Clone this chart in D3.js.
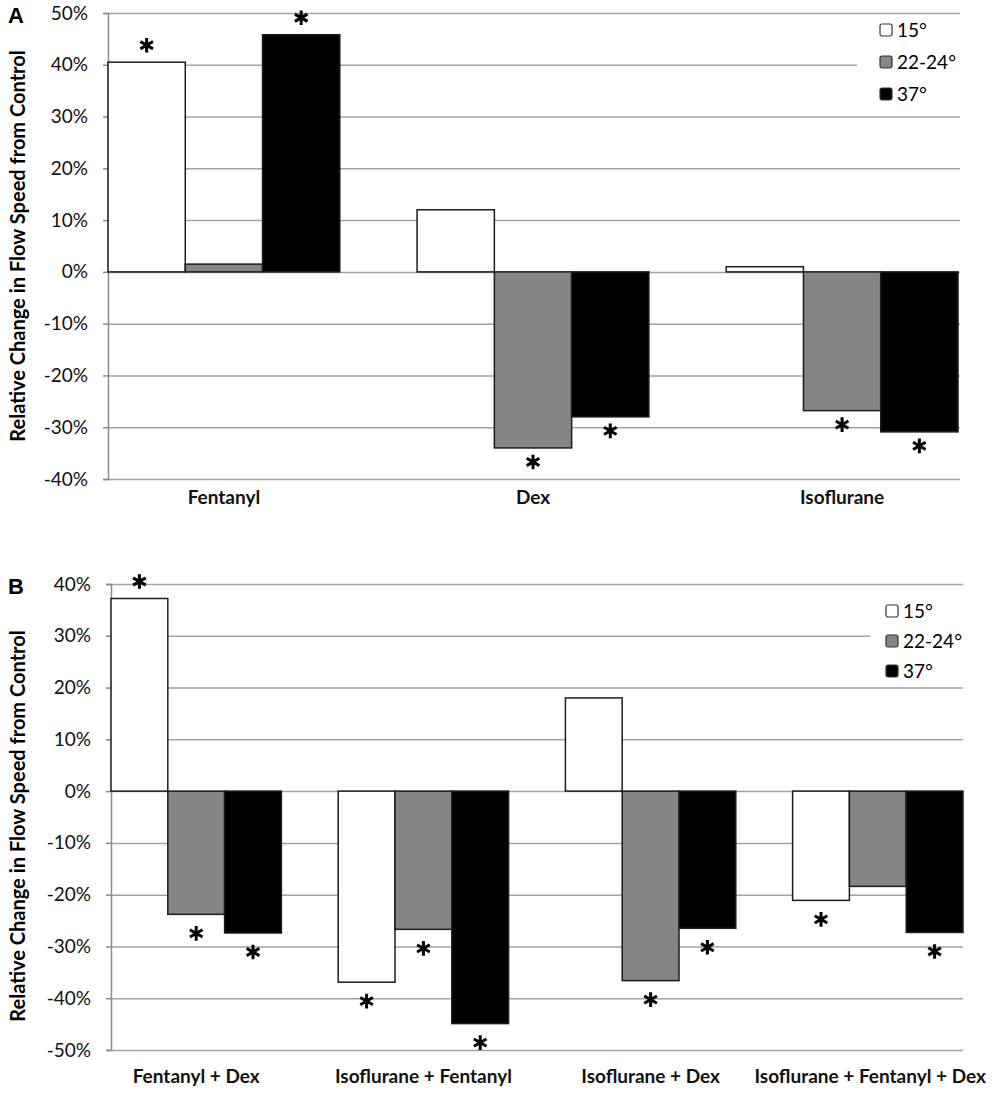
<!DOCTYPE html>
<html>
<head>
<meta charset="utf-8">
<script src="https://cdn.jsdelivr.net/npm/d3@7"></script>
<style>
  body { margin: 0; background: #fff; }
  svg { display: block; }
  .tick text { font-family: Lato, 'Open Sans', sans-serif; fill: #111; }
  .panel-letter { font-family: 'Liberation Sans', Arial, sans-serif; font-weight: bold; font-size: 22px; }
  .y-title { font-family: Lato, sans-serif; font-weight: bold; font-size: 20px; }
  .legend text { font-family: Lato, sans-serif; font-size: 19px; }
</style>
</head>
<body>
<svg id="chart" width="992" height="1096"></svg>
<script>
// temperature groups (legend)
let temps = ['15°', '22-24°', '37°'];

// panel A: single agents, % change per temp [15, 22-24, 37]
let drugsA = ['Fentanyl', 'Dex', 'Isoflurane'];
let changeA = [
  [40.5, 1.5, 45.8],
  [12, -34, -28],
  [1, -26.8, -30.9]
];
let sigA = [
  [1, 0, 1],
  [0, 1, 1],
  [0, 1, 1]
];
let ticksA = [50, 40, 30, 20, 10, 0, -10, -20, -30, -40];

// panel B: combinations
let drugsB = ['Fentanyl + Dex', 'Isoflurane + Fentanyl', 'Isoflurane + Dex', 'Isoflurane + Fentanyl + Dex'];
let changeB = [
  [37.2, -23.8, -27.4],
  [-36.9, -26.7, -44.9],
  [18, -36.6, -26.5],
  [-21.1, -18.4, -27.3]
];
let sigB = [
  [1, 1, 1],
  [1, 1, 1],
  [0, 1, 1],
  [1, 0, 1]
];
let ticksB = [40, 30, 20, 10, 0, -10, -20, -30, -40, -50];

let FILLS = ['#ffffff', '#858585', '#000000'];

let svg = d3.select('#chart');

drawPanel({
  letter: 'A', drugs: drugsA, change: changeA, sig: sigA, ticks: ticksA,
  left: 108, right: 958, gridRight: 960, top: 13, bottom: 479,
  labelGap: 12, starGap: 14, titleY: 246,
  legend: { x: 880, y: 30, step: 32, box: [857, 18, 105, 92] }
});

drawPanel({
  letter: 'B', drugs: drugsB, change: changeB, sig: sigB, ticks: ticksB,
  left: 111, right: 963, gridRight: 963, top: 584, bottom: 1050,
  labelGap: 20, starGap: 19, titleY: 826,
  legend: { x: 886, y: 611, step: 30, box: [870, 596, 95, 90] }
});

function drawPanel(p) {
  let g = svg.append('g');
  let extent = d3.extent(p.ticks);

  let y = d3.scaleLinear()
    .domain([extent[1], extent[0]])
    .range([p.top, p.bottom]);

  let x0 = d3.scaleBand()
    .domain(p.drugs)
    .range([p.left, p.right])
    .paddingInner(0.25)
    .paddingOuter(0);

  let x1 = d3.scaleBand()
    .domain(temps)
    .range([0, x0.bandwidth()]);

  // gridlines
  g.append('g')
    .attr('class', 'grid')
    .attr('transform', 'translate(' + p.left + ',0)')
    .call(d3.axisLeft(y).tickValues(p.ticks).tickSize(-(p.gridRight - p.left)).tickFormat(''))
    .call(s => s.select('.domain').remove())
    .selectAll('line')
      .attr('stroke', '#a3a3a3')
      .attr('stroke-width', 1.5);

  // y axis with short ticks
  g.append('g')
    .attr('class', 'y-axis')
    .attr('transform', 'translate(' + p.left + ',0)')
    .call(d3.axisLeft(y).tickValues(p.ticks).tickSize(5).tickPadding(15).tickFormat(d => d + '%'))
    .call(s => s.select('.domain').attr('stroke', '#8a8a8a').attr('stroke-width', 1.5))
    .call(s => s.selectAll('.tick line').attr('stroke', '#8a8a8a').attr('stroke-width', 1.5))
    .selectAll('text')
      .style('font-size', '19px');

  // bars
  let groups = g.append('g').selectAll('g')
    .data(p.drugs)
    .join('g')
      .attr('transform', d => 'translate(' + x0(d) + ',0)');

  groups.selectAll('rect')
    .data((d, i) => p.change[i].map((v, j) => ({ temp: temps[j], value: v, fill: FILLS[j] })))
    .join('rect')
      .attr('x', d => x1(d.temp))
      .attr('width', x1.bandwidth())
      .attr('y', d => y(Math.max(0, d.value)))
      .attr('height', d => Math.abs(y(d.value) - y(0)))
      .attr('fill', d => d.fill)
      .attr('stroke', '#1c1c1c')
      .attr('stroke-width', 1.5);

  // significance asterisks
  let star = d3.symbol().type(d3.symbolAsterisk).size(150);
  groups.selectAll('path.star')
    .data((d, i) => p.change[i].map((v, j) => ({ temp: temps[j], value: v, sig: p.sig[i][j] }))
      .filter(d => d.sig))
    .join('path')
      .attr('class', 'star')
      .attr('d', star)
      .attr('transform', d => {
        let cx = x1(d.temp) + x1.bandwidth() / 2;
        let cy = d.value >= 0 ? y(d.value) - 17 : y(d.value) + p.starGap;
        return 'translate(' + cx + ',' + cy + ')';
      })
      .attr('fill', 'none')
      .attr('stroke', '#000')
      .attr('stroke-width', 3);

  // category labels
  g.append('g')
    .attr('class', 'x-axis')
    .attr('transform', 'translate(0,' + p.bottom + ')')
    .call(d3.axisBottom(x0).tickSize(0).tickPadding(p.labelGap))
    .call(s => s.select('.domain').remove())
    .selectAll('.tick')
      .each(function () {
        let t = d3.select(this).select('text')
          .style('font-size', '19px')
          .style('font-weight', 'bold');
        // keep long labels inside the page, like the original does
        let box = this.getBBox();
        let m = this.transform.baseVal.consolidate().matrix;
        let overflow = m.e + box.x + box.width - 986;
        if (overflow > 0) t.attr('dx', -overflow);
      });

  // y title
  g.append('text')
    .attr('class', 'y-title')
    .attr('transform', 'translate(25,' + p.titleY + ') rotate(-90)')
    .attr('text-anchor', 'middle')
    .text('Relative Change in Flow Speed from Control');

  // panel letter
  g.append('text')
    .attr('class', 'panel-letter')
    .attr('x', 8)
    .attr('y', p.top + 10)
    .text(p.letter);

  // legend
  let lg = g.append('g').attr('class', 'legend');
  let b = p.legend.box;
  lg.append('rect')
    .attr('x', b[0]).attr('y', b[1]).attr('width', b[2]).attr('height', b[3])
    .attr('fill', '#fff');

  let item = lg.selectAll('g.item')
    .data(temps)
    .join('g')
      .attr('class', 'item')
      .attr('transform', (d, i) => 'translate(' + p.legend.x + ',' + (p.legend.y + i * p.legend.step) + ')');

  item.append('rect')
    .attr('x', 0).attr('y', -6).attr('width', 12).attr('height', 12).attr('rx', 2)
    .attr('fill', (d, i) => FILLS[i])
    .attr('stroke', '#333')
    .attr('stroke-width', 1.2);

  item.append('text')
    .attr('x', 17)
    .attr('y', 7)
    .text(d => d);
}
</script>
</body>
</html>
